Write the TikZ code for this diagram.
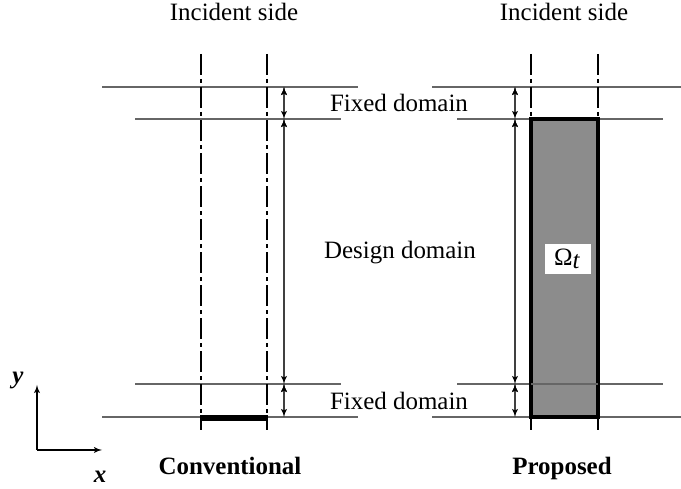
\documentclass[tikz,border=0pt]{standalone}
\usepackage{fontspec}
\setmainfont{Liberation Serif}
\usetikzlibrary{arrows}
\usetikzlibrary{positioning}

\begin{document}
\begin{tikzpicture}[x=0.02cm,y=-0.02cm,>=latex',
    thin line/.style={draw=black!60,line width=0.6pt},
    center line/.style={draw=black,line width=0.6pt,dash pattern=on 11.9pt off 2.3pt on 2.3pt off 2.3pt},
    dim arrow/.style={<->,draw=black!75,line width=0.6pt},
    text node/.style={font=\fontsize{14.2}{17}\selectfont,inner sep=0pt,anchor=base},
    title node/.style={text node,font=\fontsize{14.2}{17}\selectfont\bfseries}]
   \useasboundingbox (0,0) rectangle (681,489);
   % conventional
   \begin{scope}
      \draw[thin line] (102,87) -- (358,87);
      \draw[thin line] (135,119) -- (341,119);
      \draw[thin line] (135,384) -- (341,384);
      \draw[thin line] (102,417) -- (358,417);
      \draw[center line] (201,54) -- (201,430);
      \draw[center line] (267,54) -- (267,430);
      \draw[line width=3.6pt] (200,418) -- (268,418);
      \coordinate (l1) at (284,87);
      \coordinate (l2) at (284,119);
      \coordinate (l3) at (284,384);
      \coordinate (l4) at (284,417);
      \path[dim arrow] (l1) edge (l2);
      \path[dim arrow] (l2) edge (l3);
      \path[dim arrow] (l3) edge (l4);
      \node[text node] (incL) at (234,21) {Incident side};
      \node[title node] (conv) at (230,475) {Conventional};
   \end{scope}
   % proposed
   \begin{scope}
      \draw[thin line] (432,87) -- (681,87);
      \draw[thin line] (457,119) -- (663,119);
      \draw[thin line] (457,384) -- (663,384);
      \draw[thin line] (432,417) -- (681,417);
      \draw[center line] (531,54) -- (531,430);
      \draw[center line] (598,54) -- (598,430);
      \draw[line width=2.3pt,fill=black!45] (531,119) rectangle (598,417);
      \draw[thin line] (531,384) -- (598,384);
      \coordinate (r1) at (515,87);
      \coordinate (r2) at (515,119);
      \coordinate (r3) at (515,384);
      \coordinate (r4) at (515,417);
      \path[dim arrow] (r1) edge (r2);
      \path[dim arrow] (r2) edge (r3);
      \path[dim arrow] (r3) edge (r4);
      \node[fill=white,minimum width=0.92cm,minimum height=0.6cm,inner sep=0pt] (omega) at (568,259) {};
      \node[text node] at (567,266) {Ω\raisebox{-0.25ex}{\textit{t}}};
      \node[text node] (incR) at (564,21) {Incident side};
      \node[title node] (prop) at (562,475) {Proposed};
   \end{scope}
   % labels between
   \node[text node] (fixTop) at (399,112) {Fixed domain};
   \node[text node] (design) at (400,259) {Design domain};
   \node[text node] (fixBot) at (399,410) {Fixed domain};
   % axes
   \coordinate (origin) at (37,450);
   \coordinate (ytip) at (37,385);
   \coordinate (xtip) at (102,450);
   \draw[->,line width=0.6pt] (origin) -- (ytip);
   \draw[->,line width=0.6pt] (origin) -- (xtip);
   \node[title node,font=\fontsize{14.2}{17}\selectfont\bfseries\itshape] (ylab) at (18,384) {y};
   \node[title node,font=\fontsize{14.2}{17}\selectfont\bfseries\itshape] (xlab) at (100,483) {x};
\end{tikzpicture}
\end{document}
